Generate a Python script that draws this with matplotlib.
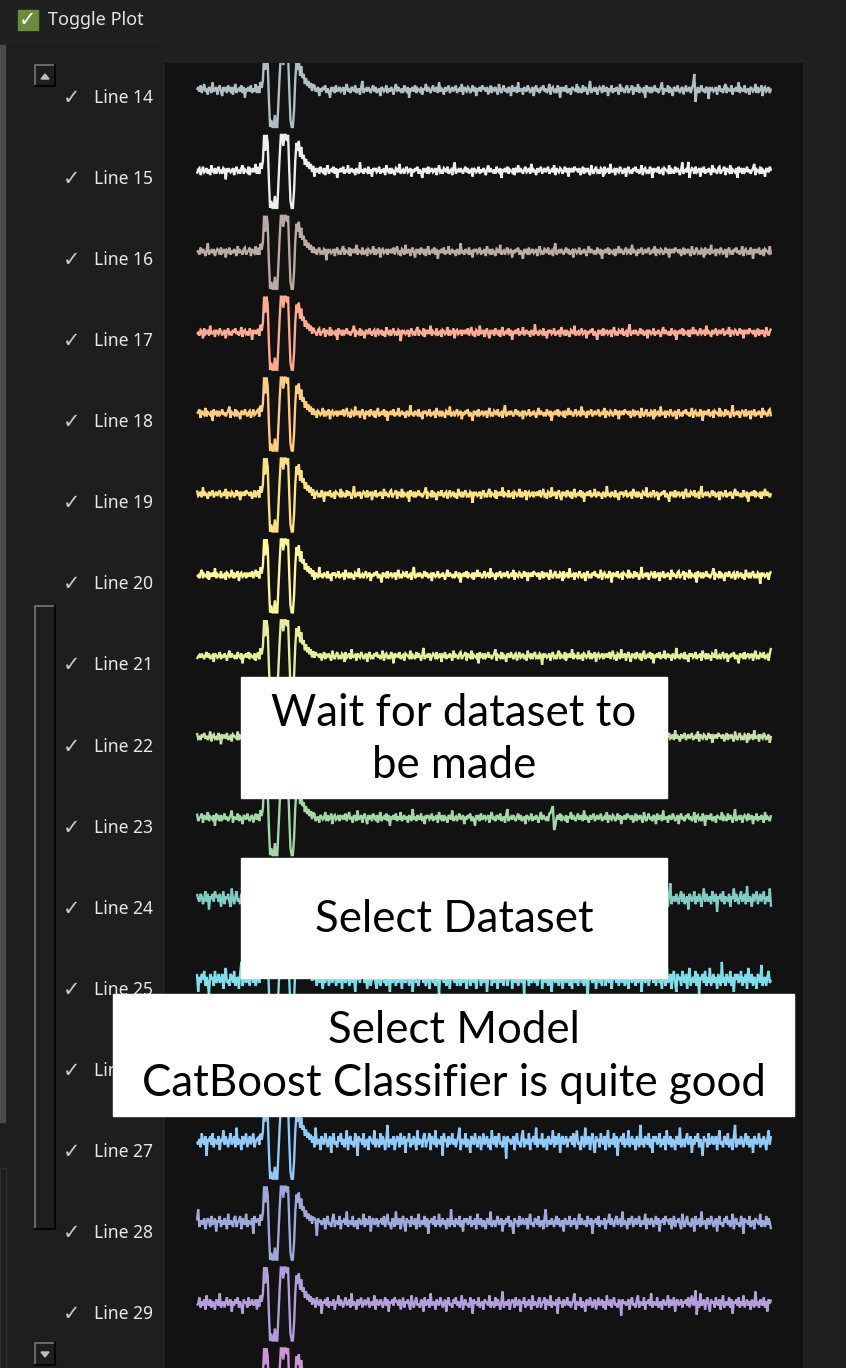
import numpy as np
import matplotlib
matplotlib.use("Agg")
import matplotlib.pyplot as plt
from matplotlib.patches import Rectangle, Polygon

# ---------------- data ----------------
line_numbers = list(range(14, 31))          # Line 30 only peeks in at the bottom
line_colors = ['#b0bec5', '#eeeeee', '#bcaaa4', '#ffab91', '#ffcc80', '#ffe082',
               '#fff59d', '#e6ee9c', '#c5e1a5', '#a5d6a7', '#80cbc4', '#80deea',
               '#81d4fa', '#90caf9', '#9fa8da', '#b39ddb', '#ce93d8']
noise_scale = [1.5, 1.4, 1.4, 1.4, 1.4, 1.4, 1.4, 1.4, 1.4, 1.5,
               2.6, 3.0, 2.8, 2.8, 2.2, 2.0, 2.0]
noise_shift = [0, 77, 161, 223, 119, 283, 43, 341, 197, 121, 257, 379, 89, 311, 153, 407, 21]

# background activity (pixel-ish amplitude units), two hand-read stretches
noise_a = [0, 2, -1, 3, -2, 1, 4, -1, 0, -3, 2, 1, -2, 5, -1, 0, 2, -3, 1, 3, -1, -4, 2, 0,
           1, -2, 3, 0, -1, 2, -3, 1, 4, -2, 0, 1, -1, 3, -2, 2, -5, 1, 0, 2, -1, 3, -2, 1,
           -1, 4, -2, 0, 2, -1, 1, -3, 2, 0, -2, 6, -1, 1, -2, 2, 0, -1, 3, -2, 1, -4, 2, 0,
           2, -1, 0, 3, -2, 1, -1, 2, -3, 4, 0, -1, 2, -2, 1, 0, -3, 2, 1, -1, 5, -2, 0, 1,
           -2, 1, 3, -1, 0, 2, -4, 1, -1, 2, 0, 3, -2, 1, -1, -5, 2, 0, 1, -2, 3, -1, 0, 2,
           -1, 0, 2, -3, 1, 4, -1, 0, -2, 2, 1, -1, 3, -2, 0, 1, -3, 2, 6, -2, 0, 1, -1, 2,
           0, -2, 1, 3, -1, 2, -2, 0, 1, -4, 2, 1, -1, 0, 3, -2, 1, -1, 2, 0, -3, 1, 4, -1,
           2, 0, -1, 1, -2, 3, 0, -1, 2, -5, 1, 0, 2, -1, 3, -2, 1, 0, -1, 2, -3, 1, 0, 4,
           -1, 2, 0, -2, 1, 3, -1, 0, 2, -2, 5, -1, 1, 0, -3, 2, -1, 1, 3, -2, 0, 2, -1, 1,
           3, -2, 0, 1, -1, 4, -3, 2, 0, -1, 2, 1, -2, 0, 3, -1, 2, -4, 1, 0, 2, -1, 3, 1]
noise_b = [1, -1, 2, -3, 0, 3, -2, 1, 0, 2, -1, -3, 4, 0, -2, 1, 3, -1, 0, -2, 2, 1, -4, 3,
           -1, 0, 2, -2, 5, -1, 0, 1, -3, 2, 0, -1, 3, 1, -2, 0, 2, -4, 1, 3, -1, 0, -2, 2,
           0, 3, -1, 1, -2, 0, 4, -3, 1, 2, -1, 0, -2, 3, 1, -5, 2, 0, 1, -1, 3, -2, 0, 1,
           -3, 2, 1, 0, -1, 4, -2, 1, 0, -2, 3, -1, 2, 0, -3, 1, 6, -2, 0, 1, -1, 2, -3, 0,
           2, 1, -2, 3, -1, 0, 2, -4, 1, 0, 3, -2, 1, -1, 2, 0, -3, 4, -1, 1, 0, -2, 2, 3,
           -2, 0, 1, 3, -3, 2, 0, -1, 4, -2, 1, 0, -1, 2, -5, 3, 0, 1, -2, 2, -1, 0, 3, -1,
           1, -2, 0, 2, 5, -3, 1, 0, -1, 3, -2, 1, 0, -4, 2, 1, -1, 3, 0, -2, 1, 2, -3, 0,
           3, -1, 0, 2, -2, 1, -3, 4, 0, -1, 2, -2, 1, 3, -1, 0, -2, 2, 1, -6, 2, 0, 1, -1,
           0, 2, -3, 1, 3, -1, 0, -2, 2, 4, -2, 1, 0, -1, 3, -3, 1, 0, 2, -1, 5, -2, 1, 0,
           -1, 3, -2, 0, 1, -3, 2, 1, -1, 0, 4, -2, 2, -1, 0, 3, -4, 1, 2, -1, 0, 2, -2, 1]

# the big burst near the start of every trace
burst_start = 51
burst = [4, -3, 8, 2, 10,
         36, 20, 36, 28,
         -10, -38, -30,
         -38, -38, -25, -38, -38,
         -10, 15, 36,
         36, 25, 36, 36, 30, 36,
         0, -30,
         -38, -38, -20,
         10, 28, 20,
         30, 14, 24, 12,
         16, 6, 12, 4, 9,
         2, 7, -1, 5]

# isolated artefacts
event_lines = [14, 14, 14, 15, 15, 23, 23, 23, 23, 23, 29, 29]
event_idx = [414, 415, 416, 410, 411, 295, 296, 297, 298, 299, 416, 417]
event_val = [6, 16, -12, 9, -7, 5, 9, 12, -12, -8, 13, -11]

box_texts = ["Wait for dataset to\nbe made", "Select Dataset",
             "Select Model\nCatBoost Classifier is quite good"]

# ---------------- layout constants (pixels) ----------------
W, H = 846, 1368
PX0, PX1, PY0 = 165, 803, 63          # plot area
TX0, TX1 = 197, 771                   # trace extent
ROW0, ROWSTEP = 90, 80.9              # baseline of first trace, spacing
LAB0, LABSTEP = 98, 81.07
BG = '#202020'

fig = plt.figure(figsize=(W / 100, H / 100), dpi=100, facecolor=BG)

# background / chrome axes in pixel coordinates
bg = fig.add_axes([0, 0, 1, 1], zorder=0)
bg.set_xlim(0, W)
bg.set_ylim(H, 0)
bg.axis('off')
bg.add_patch(Rectangle((0, 0), W, H, color=BG))
bg.add_patch(Rectangle((0, 45), 160, H - 45, color='#1e1e1e'))
bg.add_patch(Rectangle((0, 45), 5, 1122 - 45, color='#4b4b4b'))
bg.add_patch(Rectangle((0, 1168), 6, H - 1168, facecolor='none', edgecolor='#2e2e2e', lw=1))

# toggle checkbox
bg.add_patch(Rectangle((18, 10), 20, 20, color='#6a8a3c'))
bg.text(28, 20.5, '✓', color='white', fontsize=15, ha='center', va='center',
        family='DejaVu Sans', fontweight='bold')
bg.text(48, 20, 'Toggle Plot', color='#e4e4e4', fontsize=13, va='center', family='Noto Sans')

# scroll buttons and track
def bevel(x, y, w, h):
    bg.plot([x, x, x + w], [y + h, y, y], color='#707070', lw=1.3)
    bg.plot([x + w, x + w, x], [y, y + h, y + h], color='#050505', lw=1.5)

bevel(35, 65, 20, 21)
bg.add_patch(Polygon([(41, 79), (49, 79), (45, 74)], color='#bdbdbd'))
bevel(35, 1343, 20, 22)
bg.add_patch(Polygon([(41, 1352), (49, 1352), (45, 1357)], color='#bdbdbd'))
bevel(35, 606, 20, 623)

# labels
for k, n in enumerate(line_numbers[:-1]):
    y = LAB0 + LABSTEP * k
    bg.text(72, y, '✓', color='#c8c8c8', fontsize=15, ha='center', va='center',
            family='DejaVu Sans')
    bg.text(94, y, f'Line {n}', color='#e8e8e8', fontsize=12.6, va='center',
            family='Noto Sans')

# traces axes
ax = fig.add_axes([PX0 / W, 0, (PX1 - PX0) / W, (H - PY0) / H], zorder=1)
ax.set_facecolor('#121212')
for s in ax.spines.values():
    s.set_visible(False)
ax.set_xticks([])
ax.set_yticks([])

base = np.array(noise_a + noise_b, dtype=float)
N = len(base)
pps = (TX1 - TX0) / (N - 1)
ax.set_xlim(-(TX0 - PX0) / pps, (N - 1) + (PX1 - TX1) / pps)
ax.set_ylim((H - ROW0) / ROWSTEP, (PY0 - ROW0) / ROWSTEP)

x = np.arange(N)
for k, n in enumerate(line_numbers):
    w = np.roll(base, noise_shift[k]) * noise_scale[k]
    w[burst_start:burst_start + len(burst)] = burst
    for ln, i, v in zip(event_lines, event_idx, event_val):
        if ln == n:
            w[i] = v
    w = np.clip(w, -37, 37)
    ax.plot(x, k - w / ROWSTEP, color=line_colors[k], lw=1.7,
            solid_joinstyle='miter', solid_capstyle='butt')

# overlay boxes
ov = fig.add_axes([0, 0, 1, 1], zorder=5)
ov.set_xlim(0, W)
ov.set_ylim(H, 0)
ov.axis('off')
ov.patch.set_alpha(0)
boxes = [(241, 677, 426, 121), (241, 858, 426, 120), (113, 994, 681, 122)]
for (bx, by, bw, bh), t in zip(boxes, box_texts):
    ov.add_patch(Rectangle((bx, by), bw, bh, color='white'))
    ov.text(bx + bw / 2, by + bh / 2 + 2, t, ha='center', va='center', fontsize=31.5,
            family='Lato', color='black', linespacing=1.36)

fig.savefig('out.png', dpi=100, facecolor=BG)
